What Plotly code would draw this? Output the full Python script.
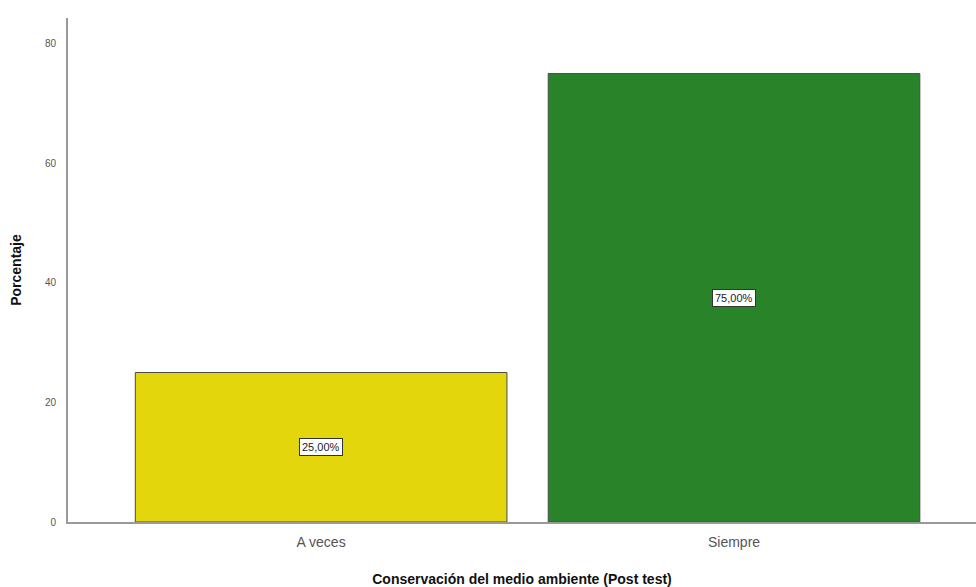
import plotly.graph_objects as go

categories = ["A veces", "Siempre"]
values = [25.0, 75.0]
labels = ["25,00%", "75,00%"]
colors = ["#E3D60D", "#298329"]

fig = go.Figure()
fig.add_trace(go.Bar(
    x=categories, y=values, width=0.9,
    marker=dict(color=colors, line=dict(color="#4a4a4a", width=1)),
    hoverinfo="skip",
))
for c, v, t in zip(categories, values, labels):
    fig.add_annotation(
        x=c, y=v / 2, text=t, showarrow=False,
        font=dict(family="Arial, Liberation Sans", size=11, color="#222"),
        bgcolor="white", bordercolor="#333", borderwidth=1, borderpad=2,
    )

fig.update_layout(
    width=976, height=587,
    margin=dict(l=68, r=0, t=18, b=65),
    plot_bgcolor="white", paper_bgcolor="white",
    showlegend=False,
    xaxis=dict(
        type="category", range=[-0.613, 1.586],
        showline=True, linecolor="#999", linewidth=2,
        showgrid=False, ticks="", ticklabelstandoff=6,
        tickfont=dict(family="Arial, Liberation Sans", size=14, color="#555"),
        title=dict(text="<b>Conservación del medio ambiente (Post test)</b>",
                   font=dict(family="Arial, Liberation Sans", size=14, color="#111"),
                   standoff=26),
    ),
    yaxis=dict(
        range=[0, 84.3], tickvals=[0, 20, 40, 60, 80],
        showline=True, linecolor="#999", linewidth=2,
        showgrid=False, zeroline=False, ticks="", ticklabelstandoff=8,
        tickfont=dict(family="Arial, Liberation Sans", size=10, color="#555"),
        title=dict(text="<b>Porcentaje</b>",
                   font=dict(family="Arial, Liberation Sans", size=14, color="#111"),
                   standoff=20),
    ),
)
fig.write_html("out.html")
